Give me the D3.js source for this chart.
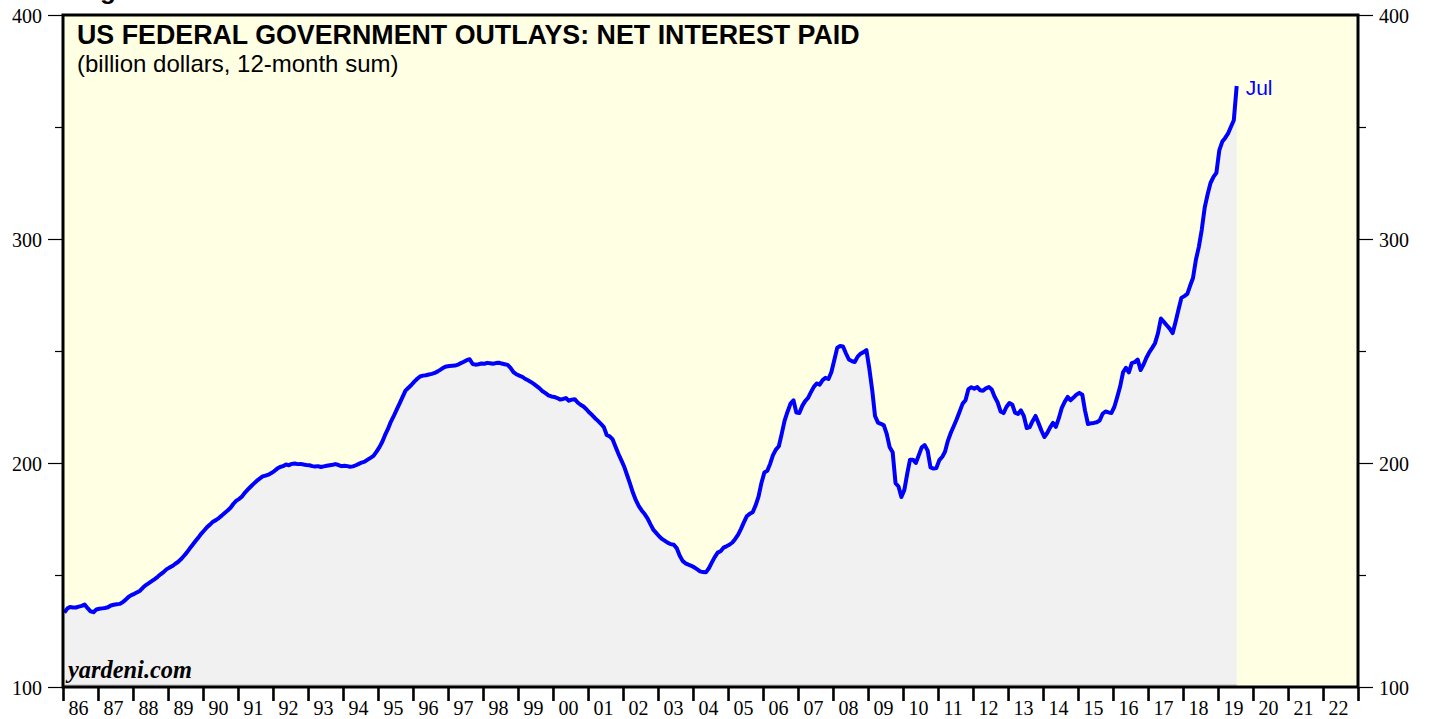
<!DOCTYPE html>
<html>
<head>
<meta charset="utf-8">
<style>
  body { margin: 0; background: #fff; }
  text.serif { font-family: "Liberation Serif", "Times New Roman", serif; }
  text.sans { font-family: "Liberation Sans", Arial, sans-serif; }
</style>
<script src="https://d3js.org/d3.v7.min.js"></script>
</head>
<body>
<div id="chart"></div>
<script>
// Net interest paid, billion dollars, 12-month sum, monthly from Jan 1986 to Jul 2019
var startYear = 1986;
var lastLabel = "Jul";
var yTicks = [100, 150, 200, 250, 300, 350, 400];
var netInterest = [
  133.2, 135.0, 135.7, 135.5, 135.5, 135.9, 136.2, 136.8, 135.2, 133.8, 133.4, 134.6, // 86
  134.9, 135.1, 135.3, 135.6, 136.4, 136.7, 136.9, 137.1, 137.8, 138.9, 140.2, 141.0, // 87
  141.6, 142.3, 143.0, 144.4, 145.5, 146.4, 147.3, 148.2, 149.2, 150.3, 151.3, 152.5, // 88
  153.3, 154.0, 154.9, 155.8, 157.0, 158.5, 160.0, 161.8, 163.5, 165.2, 166.8, 168.5, // 89
  170.0, 171.5, 172.5, 173.8, 174.5, 175.4, 176.5, 177.7, 178.8, 180.0, 181.8, 183.2, // 90
  184.0, 185.2, 186.8, 188.2, 189.5, 190.8, 192.0, 193.0, 194.0, 194.4, 194.8, 195.5, // 91
  196.4, 197.5, 198.2, 198.6, 199.3, 199.0, 199.6, 199.8, 199.5, 199.6, 199.3, 199.1, // 92
  199.0, 198.6, 198.4, 198.6, 198.2, 198.5, 198.8, 199.0, 199.2, 199.5, 199.1, 198.6, // 93
  198.8, 198.6, 198.3, 198.5, 199.0, 199.6, 200.2, 200.6, 201.5, 202.3, 203.2, 205.0, // 94
  207.0, 209.5, 212.4, 215.2, 218.4, 221.0, 223.8, 226.6, 229.5, 232.3, 233.6, 234.8, // 95
  236.3, 237.6, 238.6, 239.0, 239.2, 239.5, 239.8, 240.2, 240.9, 241.7, 242.6, 243.1, // 96
  243.3, 243.4, 243.5, 243.9, 244.6, 245.2, 245.9, 246.3, 244.2, 243.9, 244.1, 244.4, // 97
  244.3, 244.7, 244.5, 244.3, 244.6, 244.8, 244.4, 244.1, 243.8, 242.5, 240.6, 239.6, // 98
  239.0, 238.5, 237.6, 236.9, 236.2, 235.3, 234.3, 233.3, 232.0, 231.2, 230.2, 229.7, // 99
  229.5, 229.0, 228.3, 228.6, 229.0, 227.8, 228.3, 228.5, 227.0, 226.0, 225.2, 224.0, // 00
  222.5, 221.3, 220.0, 218.8, 217.5, 216.0, 212.5, 211.9, 210.5, 207.3, 204.0, 201.2, // 01
  198.2, 194.3, 190.8, 186.7, 183.4, 180.7, 178.8, 177.2, 175.2, 172.6, 170.1, 168.7, // 02
  167.2, 166.0, 165.2, 164.3, 163.8, 163.5, 162.0, 158.7, 156.3, 155.2, 154.6, 154.1, // 03
  153.4, 152.5, 151.6, 151.3, 151.2, 153.0, 155.5, 158.0, 160.0, 160.6, 162.2, 162.8, // 04
  163.5, 164.5, 166.0, 167.9, 170.5, 173.5, 176.2, 177.3, 178.0, 181.0, 185.0, 191.0, // 05
  195.8, 196.5, 199.5, 203.5, 206.0, 207.5, 213.0, 219.0, 223.0, 226.5, 228.0, 222.5, // 06
  222.3, 225.5, 227.5, 229.0, 231.5, 234.0, 235.5, 235.0, 237.0, 238.0, 237.5, 240.5, // 07
  246.0, 251.5, 252.2, 252.0, 249.0, 246.2, 245.5, 245.1, 247.5, 248.8, 249.5, 250.4, // 08
  242.0, 232.0, 221.0, 218.0, 217.5, 216.8, 213.0, 207.0, 204.8, 191.0, 189.5, 184.8, // 09
  188.0, 195.5, 201.5, 201.5, 200.0, 203.5, 207.0, 208.0, 205.5, 198.0, 197.5, 197.8, // 10
  201.3, 202.8, 205.0, 210.0, 213.5, 216.5, 219.5, 223.0, 226.5, 228.0, 233.0, 233.8, // 11
  233.2, 233.9, 232.5, 232.3, 233.3, 233.9, 232.8, 229.5, 227.0, 223.0, 222.3, 225.0, // 12
  226.8, 226.0, 222.5, 221.9, 223.5, 221.0, 215.6, 216.0, 218.8, 221.0, 217.8, 214.5, // 13
  211.6, 213.5, 215.8, 217.9, 216.1, 220.0, 224.5, 227.3, 229.5, 228.0, 229.2, 230.5, // 14
  231.3, 230.5, 223.5, 217.4, 217.7, 217.9, 218.2, 219.0, 222.0, 223.0, 222.6, 222.3, // 15
  225.0, 229.5, 234.0, 240.5, 242.5, 240.5, 244.6, 245.0, 246.2, 241.5, 244.0, 247.0, // 16
  249.5, 251.5, 253.5, 258.0, 264.5, 263.0, 261.5, 260.0, 258.0, 263.0, 268.5, 273.7, // 17
  274.5, 275.5, 279.0, 282.6, 290.6, 296.5, 304.0, 314.0, 320.0, 325.0, 327.7, 329.5, // 18
  339.7, 343.5, 345.0, 347.0, 350.0, 353.0, 368.3                                      // 19
];

var W = 1431, H = 719;
var margin = { top: 15, right: 73, bottom: 32, left: 63 };
var width = W - margin.left - margin.right,
    height = H - margin.top - margin.bottom;

var data = netInterest.map(function(v, i) {
  return { date: new Date(startYear, i, 15), value: v };
});

var x = d3.scaleTime()
  .domain([new Date(startYear, 0, 1), new Date(2023, 0, 1)])
  .range([0, width]);
var y = d3.scaleLinear().domain([100, 400]).range([height, 0]);

var svg = d3.select("#chart").append("svg")
  .attr("width", W).attr("height", H)
  .style("display", "block");

// heading above the frame, only its descender shows (as in the original page crop)
svg.append("text").attr("class", "sans")
  .attr("x", 77).attr("y", -1.5)
  .style("font-size", "26px").style("font-weight", "bold")
  .text("Figure 1.");

var g = svg.append("g")
  .attr("transform", "translate(" + margin.left + "," + margin.top + ")");

g.append("rect")
  .attr("width", width).attr("height", height)
  .attr("fill", "#ffffe4");

var area = d3.area()
  .x(function(d) { return x(d.date); })
  .y0(height)
  .y1(function(d) { return y(d.value); });

g.append("path").datum(data)
  .attr("d", area)
  .attr("fill", "#f1f1f1");

g.append("line")
  .attr("x1", 0).attr("x2", x(data[data.length - 1].date))
  .attr("y1", height - 2).attr("y2", height - 2)
  .attr("stroke", "#b5b5b5").attr("stroke-width", 1);

var line = d3.line()
  .x(function(d) { return x(d.date); })
  .y(function(d) { return y(d.value); });

g.append("path").datum(data)
  .attr("d", line)
  .attr("fill", "none")
  .attr("stroke", "#0000ff")
  .attr("stroke-width", 4)
  .attr("stroke-linejoin", "round");

var last = data[data.length - 1];
g.append("text").attr("class", "sans")
  .attr("x", x(last.date) + 9).attr("y", y(last.value) + 9)
  .style("font-size", "21px").attr("fill", "#0000ff")
  .text(lastLabel);

// titles
g.append("text").attr("class", "sans")
  .attr("x", 14).attr("y", 29)
  .style("font-size", "26.8px").style("font-weight", "bold")
  .text("US FEDERAL GOVERNMENT OUTLAYS: NET INTEREST PAID");
g.append("text").attr("class", "sans")
  .attr("x", 14).attr("y", 57)
  .style("font-size", "24px")
  .text("(billion dollars, 12-month sum)");

g.append("text").attr("class", "serif")
  .attr("x", 5).attr("y", height - 9)
  .style("font-size", "24.4px").style("font-weight", "bold").style("font-style", "italic")
  .text("yardeni.com");

// y axes
function styleY(sel, dir) {
  sel.select(".domain").remove();
  sel.selectAll(".tick line")
    .attr("x2", function(d) { return dir * (d % 100 === 0 ? 15 : 8); })
    .attr("stroke", "#000").attr("stroke-width", 1.2);
  sel.selectAll(".tick text")
    .attr("class", "serif")
    .attr("x", dir * 21)
    .attr("dy", "0.36em")
    .style("font-size", "20px").attr("fill", "#000");
}

g.append("g")
  .call(d3.axisLeft(y).tickValues(yTicks)
    .tickFormat(function(d) { return d % 100 === 0 ? d : ""; }))
  .call(styleY, -1);

g.append("g")
  .attr("transform", "translate(" + width + ",0)")
  .call(d3.axisRight(y).tickValues(yTicks)
    .tickFormat(function(d) { return d % 100 === 0 ? d : ""; }))
  .call(styleY, 1);

// x axis
var xAxis = g.append("g")
  .attr("transform", "translate(0," + height + ")")
  .call(d3.axisBottom(x).ticks(d3.timeYear.every(1))
    .tickFormat(d3.timeFormat("%y")).tickSize(14).tickSizeOuter(0));
xAxis.select(".domain").remove();
xAxis.selectAll(".tick line").attr("stroke", "#000").attr("stroke-width", 2.6);
xAxis.selectAll(".tick text")
  .attr("class", "serif")
  .attr("x", 5).attr("y", 28).attr("dy", 0)
  .attr("text-anchor", "start")
  .style("font-size", "20px").attr("fill", "#000")
  .filter(function(d) { return d.getFullYear() >= 2023; }).remove();

// frame
g.append("rect")
  .attr("width", width).attr("height", height)
  .attr("fill", "none").attr("stroke", "#000").attr("stroke-width", 3);
</script>
</body>
</html>
